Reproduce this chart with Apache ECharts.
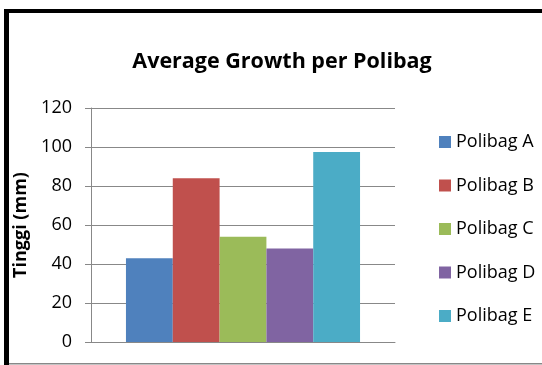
<!DOCTYPE html>
<html lang="en">
  <head>
    <meta charset="UTF-8" />
    <title>Average Growth per Polibag</title>
    <style>
      html, body { margin: 0; padding: 0; background: #fff; }
      #main { width: 542px; height: 365px; }
    </style>
  </head>
  <body>
    <script src="https://cdn.jsdelivr.net/npm/echarts@6/dist/echarts.min.js"></script>
    <div id="main"></div>
    <script>
      const seriesNames = ['Polibag A', 'Polibag B', 'Polibag C', 'Polibag D', 'Polibag E']
      const seriesValues = [43, 84, 54, 48, 97.5]
      const colors = ['#4F81BD', '#C0504D', '#9BBB59', '#8064A2', '#4BACC6']
      const categories = ['']

      const font = '"Open Sans", Lato, sans-serif'
      const chart = echarts.init(document.getElementById('main'))

      chart.setOption({
        animation: false,
        textStyle: { fontFamily: font },
        title: {
          text: 'Average Growth per Polibag',
          left: 277,
          textAlign: 'center',
          top: 46,
          textStyle: { fontSize: 21.5, fontWeight: 'bold', color: '#000', fontFamily: font }
        },
        grid: { left: 91, right: 147, top: 108, bottom: 23 },
        legend: {
          orient: 'vertical',
          left: 434,
          top: 128,
          icon: 'rect',
          itemWidth: 12,
          itemHeight: 12,
          itemGap: 25.5,
          textStyle: { fontSize: 18, color: '#000', fontFamily: font, lineHeight: 18 },
          data: seriesNames
        },
        xAxis: {
          type: 'category',
          data: categories,
          axisLine: { show: true, lineStyle: { color: '#888' } },
          axisTick: { show: false },
          axisLabel: { show: false }
        },
        yAxis: {
          type: 'value',
          min: 0,
          max: 120,
          interval: 20,
          name: 'Tinggi (mm)',
          nameLocation: 'middle',
          nameGap: 53,
          nameTextStyle: { fontSize: 18, fontWeight: 'bold', color: '#000', fontFamily: font },
          axisLine: { show: true, lineStyle: { color: '#888' } },
          axisTick: { show: true, length: 6, lineStyle: { color: '#888' } },
          axisLabel: { fontSize: 18, color: '#000', margin: 19, fontFamily: font },
          splitLine: { lineStyle: { color: '#888', width: 1 } }
        },
        series: seriesNames.map((name, i) => ({
          name,
          type: 'bar',
          data: [seriesValues[i]],
          barGap: '0%',
          barCategoryGap: '23%',
          itemStyle: { color: colors[i] }
        })),
        graphic: [
          { type: 'rect', shape: { x: 4, y: 9, width: 5, height: 356 }, style: { fill: '#000' } },
          { type: 'rect', shape: { x: 4, y: 9, width: 538, height: 4 }, style: { fill: '#000' } },
          { type: 'rect', shape: { x: 9, y: 363, width: 533, height: 1.5 }, style: { fill: '#888' } }
        ]
      })
    </script>
  </body>
</html>
